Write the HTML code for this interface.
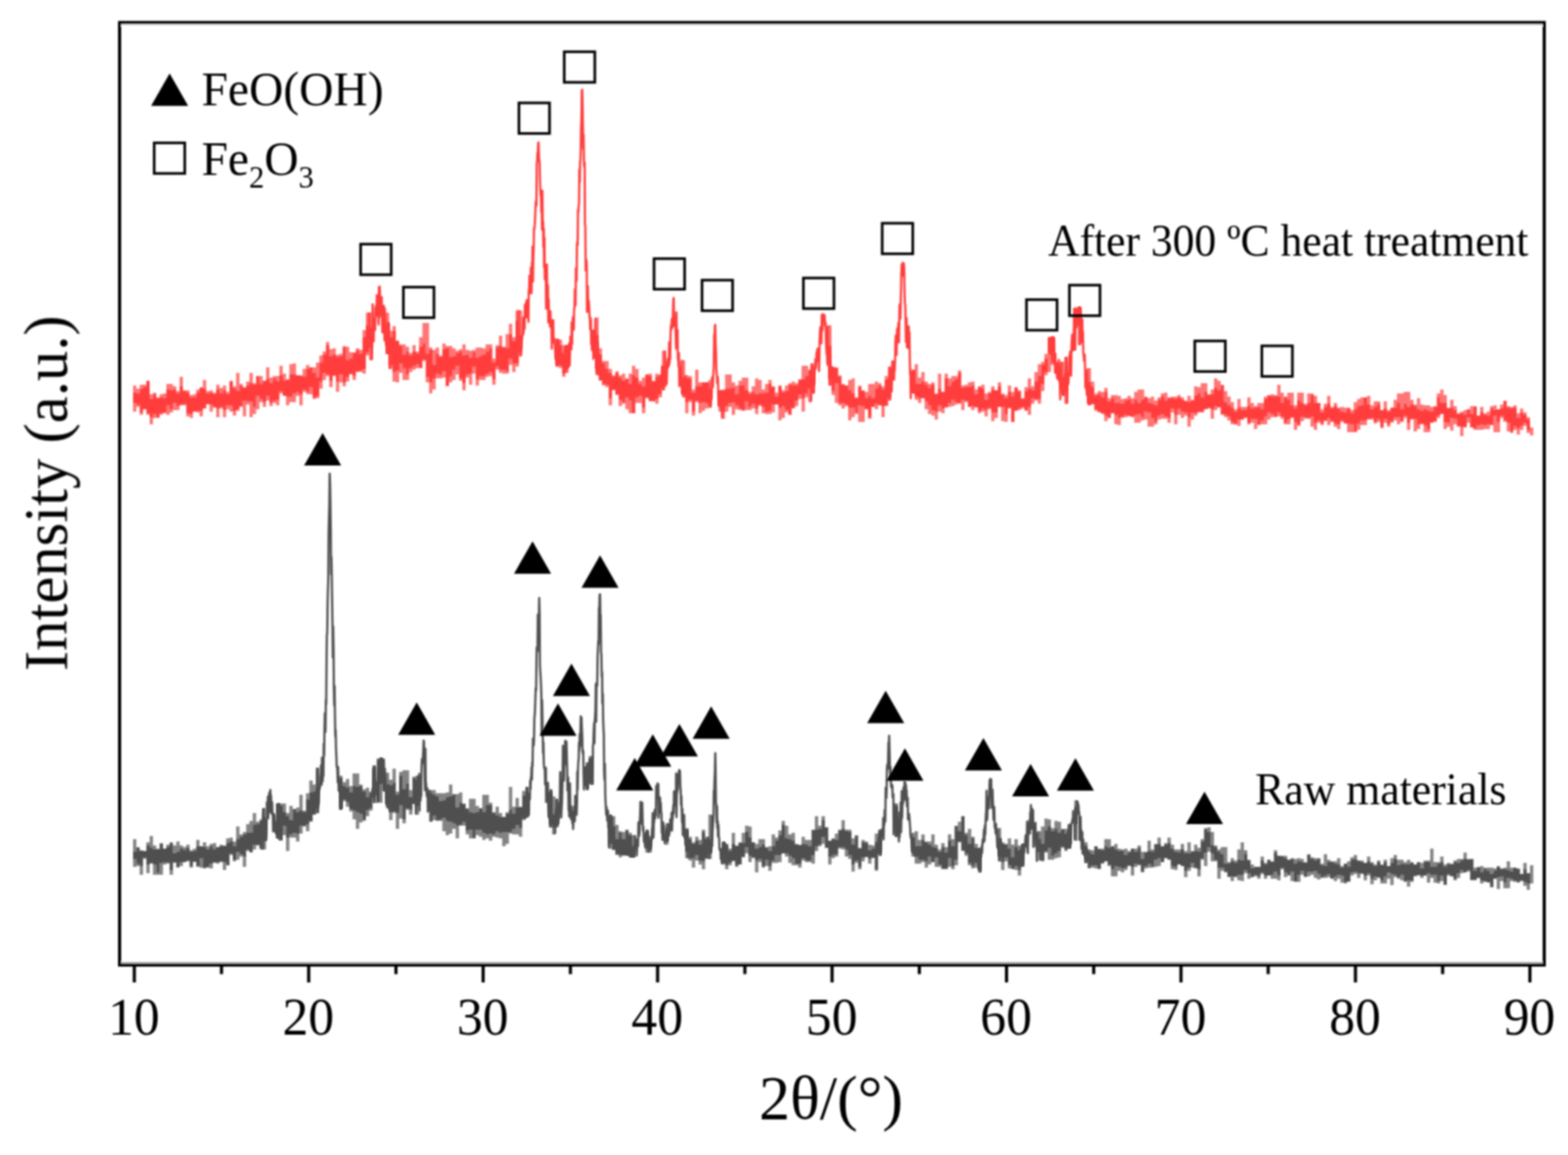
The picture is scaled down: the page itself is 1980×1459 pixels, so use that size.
<!DOCTYPE html>
<html lang="en"><head><meta charset="utf-8"><title>XRD patterns</title>
<style>
html,body{margin:0;padding:0;background:#fff;}
body{width:1980px;height:1459px;overflow:hidden;}
svg{display:block;position:absolute;left:0;top:0;}
text{font-family:"Liberation Serif","Times New Roman",Times,serif;fill:#000;}
.sq{fill:none;stroke:#000;stroke-width:3.3;}
.tr{fill:#000;stroke:none;}
</style></head><body>
<svg width="1980" height="1459" viewBox="0 0 1980 1459" role="img" aria-label="XRD patterns of raw materials and after 300 ºC heat treatment">
<defs><filter id="soft" x="-2%" y="-10%" width="104%" height="120%"><feGaussianBlur stdDeviation="1.1"/></filter><filter id="soft2" x="-20%" y="-5%" width="140%" height="110%"><feGaussianBlur stdDeviation="0.9"/></filter><filter id="soft3" filterUnits="userSpaceOnUse" x="0" y="0" width="1980" height="1459"><feGaussianBlur stdDeviation="0.85"/></filter></defs>
<rect x="0" y="0" width="1980" height="1459" fill="#fff"/>
<g filter="url(#soft)" fill="none" stroke="#505050" stroke-width="4.2">
<path stroke-opacity="0.7" d="M170.1 1060v16M170.1 1085v10M174.3 1070v1M174.3 1091v3M178.5 1074v1M178.5 1094v11M182.7 1083v2M186.9 1064v4M186.9 1092v11M191.1 1056v15M191.1 1090v1M195.3 1068v5M195.3 1092v13M199.5 1072v1M199.5 1102v3M203.7 1065v1M203.7 1090v15M207.9 1089v3M212.1 1067v3M212.1 1089v2M216.3 1064v1M216.3 1099v6M220.5 1068v10M220.5 1089v1M224.7 1063v13M224.7 1095v1M228.9 1068v4M228.9 1089v5M233.1 1070v4M237.3 1067v4M237.3 1087v1M241.5 1074v2M241.5 1094v2M245.7 1072v3M245.7 1088v1M249.9 1061v8M249.9 1094v1M254.1 1084v12M258.3 1064v6M258.3 1096v1M262.5 1069v4M262.5 1095v1M266.7 1066v3M266.7 1091v6M270.9 1065v8M270.9 1089v1M275.1 1089v2M279.3 1067v2M279.3 1088v1M283.5 1068v1M283.5 1089v10M287.7 1059v6M291.9 1058v5M291.9 1078v2M296.1 1063v6M296.1 1086v2M300.3 1044v16M300.3 1076v10M304.5 1054v3M304.5 1079v3M308.7 1051v3M308.7 1082v13M312.9 1041v11M312.9 1073v2M317.1 1037v15M317.1 1076v1M321.3 1027v15M321.3 1067v6M325.5 1038v3M325.5 1067v1M329.7 1035v2M329.7 1071v2M333.9 1021v11M333.9 1062v11M350.7 1054v5M354.9 1015v3M354.9 1061v1M359.1 1015v11M359.1 1043v12M363.3 1027v4M363.3 1058v17M367.5 1018v18M367.5 1054v4M371.7 1052v6M375.9 1020v6M375.9 1053v10M380.1 1004v20M380.1 1043v10M384.3 1024v2M384.3 1043v1M388.5 1002v8M388.5 1041v9M392.7 986v15M392.7 1037v1M396.9 991v9M401.1 970v26M401.1 1021v6M430.5 980v3M430.5 1022v1M434.7 988v5M434.7 1010v2M438.9 984v11M438.9 1013v6M443.1 993v8M443.1 1022v3M447.3 977v16M447.3 1024v11M451.5 977v17M451.5 1026v21M455.7 991v2M455.7 1028v11M459.9 997v3M459.9 1035v2M464.1 995v12M464.1 1023v8M468.3 1000v2M468.3 1021v3M472.5 967v3M472.5 1007v7M480.9 957v1M480.9 990v24M489.3 976v15M489.3 1018v3M493.5 985v7M493.5 1026v10M497.7 971v18M497.7 1025v2M501.9 1000v4M501.9 1027v20M506.1 975v5M506.1 1017v17M510.3 973v24M510.3 1035v5M514.5 973v17M514.5 1021v2M518.7 998v9M518.7 1023v6M522.9 981v2M522.9 1015v1M527.1 980v6M527.1 1018v11M543.9 998v4M543.9 1025v13M548.1 998v6M548.1 1030v6M552.3 1002v4M552.3 1036v1M556.5 1002v10M556.5 1035v2M560.7 1002v9M560.7 1033v17M564.9 1001v6M564.9 1037v18M569.1 991v15M569.1 1038v15M573.3 1003v1M573.3 1040v7M577.5 1003v17M577.5 1043v16M581.7 1001v13M581.7 1042v1M585.9 1015v1M585.9 1038v5M590.1 1021v1M590.1 1049v5M594.3 1009v17M594.3 1048v11M598.5 1009v18M602.7 1018v8M602.7 1048v7M606.9 1048v9M611.1 1004v22M611.1 1052v9M615.3 1004v13M615.3 1054v5M619.5 1014v3M619.5 1053v9M623.7 1026v1M623.7 1054v3M627.9 1019v11M627.9 1050v8M632.1 1027v5M632.1 1052v7M636.3 1051v18M640.5 1026v2M640.5 1051v15M644.7 994v29M644.7 1051v2M648.9 1019v9M648.9 1047v7M653.1 1008v12M653.1 1042v12M657.3 1019v1M657.3 1046v11M661.5 999v6M661.5 1034v2M665.7 994v7M665.7 1031v2M695.1 997v4M695.1 1041v4M699.3 1006v23M699.3 1046v8M703.5 1009v11M703.5 1042v3M741.3 963v4M741.3 995v3M745.5 955v3M745.5 989v2M770.7 1029v2M770.7 1066v6M774.9 1031v13M774.9 1073v1M779.1 1042v18M779.1 1079v1M783.3 1050v2M783.3 1080v3M787.5 1051v9M787.5 1080v1M791.7 1048v1M795.9 1052v3M800.1 1055v14M816.9 1048v3M816.9 1072v5M821.1 1056v4M821.1 1074v3M842.1 1040v6M842.1 1063v4M867.3 1046v2M867.3 1076v8M871.5 1057v3M871.5 1084v3M875.7 1064v2M875.7 1084v12M879.9 1057v5M879.9 1080v7M884.1 1061v6M884.1 1087v5M888.3 1048v3M888.3 1088v10M892.5 1057v3M892.5 1084v1M896.7 1029v32M896.7 1078v7M913.5 1063v1M913.5 1090v2M917.7 1066v2M917.7 1093v5M921.9 1072v3M921.9 1090v3M926.1 1052v14M926.1 1087v1M930.3 1068v1M930.3 1093v2M934.5 1064v1M938.7 1052v13M938.7 1082v1M942.9 1043v8M942.9 1070v8M947.1 1044v14M947.1 1081v8M951.3 1083v1M955.5 1066v6M955.5 1087v15M959.7 1060v10M959.7 1085v4M963.9 1060v7M963.9 1094v2M968.1 1070v1M968.1 1086v8M972.3 1069v6M972.3 1094v6M976.5 1054v15M976.5 1087v3M980.7 1058v4M980.7 1080v10M984.9 1049v6M984.9 1080v9M989.1 1037v5M993.3 1043v16M993.3 1078v4M997.5 1054v6M997.5 1081v9M1001.7 1052v10M1001.7 1084v9M1005.9 1066v1M1005.9 1091v2M1010.1 1067v1M1010.1 1091v5M1014.3 1057v9M1014.3 1084v3M1018.5 1061v6M1018.5 1087v2M1022.7 1061v8M1022.7 1087v2M1026.9 1048v1M1026.9 1080v11M1031.1 1031v17M1031.1 1069v6M1035.3 1043v4M1035.3 1067v2M1039.5 1031v5M1039.5 1057v9M1047.9 1082v10M1052.1 1059v1M1052.1 1080v4M1056.3 1053v8M1056.3 1079v3M1060.5 1048v1M1060.5 1070v2M1064.7 1036v11M1064.7 1070v3M1068.9 1048v2M1068.9 1073v9M1073.1 1048v3M1073.1 1080v5M1077.3 1059v8M1077.3 1092v9M1081.5 1055v1M1081.5 1087v3M1085.7 1071v1M1085.7 1095v3M1089.9 1061v3M1089.9 1083v5M1094.1 1063v2M1094.1 1082v1M1098.3 1067v7M1098.3 1085v6M1102.5 1068v4M1102.5 1083v1M1106.7 1053v11M1106.7 1098v2M1110.9 1048v4M1110.9 1078v3M1131.9 1015v3M1131.9 1047v10M1152.9 1052v6M1152.9 1077v5M1157.1 1050v19M1157.1 1082v9M1161.3 1061v8M1161.3 1086v5M1165.5 1054v7M1165.5 1086v3M1169.7 1063v1M1169.7 1088v8M1173.9 1063v4M1173.9 1082v10M1178.1 1054v16M1182.3 1067v4M1182.3 1083v12M1186.5 1073v3M1186.5 1092v3M1190.7 1065v5M1190.7 1097v1M1194.9 1070v7M1194.9 1097v1M1199.1 1054v8M1199.1 1084v11M1203.3 1060v9M1203.3 1094v4M1207.5 1043v1M1207.5 1086v7M1211.7 1038v12M1211.7 1063v1M1215.9 1074v1M1220.1 1052v3M1220.1 1078v3M1224.3 1047v19M1224.3 1090v3M1228.5 1057v2M1228.5 1094v3M1232.7 1066v5M1232.7 1090v6M1236.9 1071v1M1236.9 1099v3M1262.1 1046v13M1262.1 1082v6M1266.3 1064v2M1266.3 1089v10M1270.5 1066v1M1270.5 1083v5M1274.7 1059v13M1274.7 1093v4M1278.9 1067v16M1278.9 1097v1M1283.1 1060v10M1283.1 1094v5M1287.3 1068v6M1287.3 1099v7M1291.5 1094v1M1312.5 1050v10M1312.5 1076v11M1316.7 1044v22M1316.7 1087v1M1320.9 1034v15M1320.9 1075v2M1325.1 1035v9M1325.1 1071v15M1329.3 1046v4M1329.3 1081v5M1333.5 1037v10M1333.5 1078v6M1337.7 1038v14M1337.7 1075v8M1341.9 1047v1M1341.9 1069v2M1346.1 1047v6M1346.1 1073v2M1350.3 1041v6M1350.3 1071v1M1358.7 1011v8M1358.7 1041v21M1371.3 1064v5M1371.3 1085v5M1375.5 1073v3M1375.5 1096v1M1379.7 1074v5M1379.7 1093v3M1383.9 1093v4M1388.1 1072v1M1388.1 1097v1M1392.3 1072v2M1392.3 1090v1M1396.5 1060v9M1400.7 1060v11M1400.7 1092v2M1404.9 1098v9M1409.1 1066v7M1409.1 1094v13M1413.3 1072v3M1413.3 1095v5M1417.5 1073v2M1417.5 1097v5M1421.7 1072v8M1421.7 1096v3M1425.9 1075v2M1425.9 1093v1M1430.1 1095v11M1434.3 1072v4M1434.3 1091v4M1438.5 1068v3M1438.5 1092v1M1442.7 1076v9M1442.7 1101v1M1446.9 1076v1M1446.9 1094v3M1451.1 1062v13M1451.1 1091v5M1455.3 1073v3M1455.3 1094v2M1459.5 1066v1M1459.5 1086v9M1463.7 1058v8M1463.7 1084v10M1472.1 1065v2M1476.3 1058v7M1480.5 1067v5M1480.5 1094v4M1484.7 1073v3M1484.7 1095v4M1488.9 1073v4M1493.1 1066v7M1497.3 1075v3M1497.3 1100v8M1501.5 1064v14M1501.5 1096v4M1505.7 1075v1M1505.7 1090v6M1509.9 1067v8M1509.9 1096v1M1514.1 1071v5M1514.1 1098v9M1518.3 1060v3M1518.3 1084v2M1522.5 1046v2M1522.5 1077v17M1526.7 1045v6M1526.7 1070v6M1530.9 1051v17M1530.9 1078v10M1535.1 1068v2M1535.1 1086v2M1539.3 1073v3M1539.3 1096v14M1543.5 1070v9M1543.5 1096v4M1547.7 1070v21M1547.7 1101v1M1551.9 1089v2M1551.9 1107v1M1556.1 1084v4M1556.1 1107v6M1560.3 1087v3M1560.3 1107v1M1564.5 1073v13M1564.5 1105v7M1568.7 1064v23M1568.7 1105v8M1572.9 1074v5M1572.9 1099v4M1577.1 1086v1M1577.1 1103v7M1581.3 1092v5M1585.5 1105v2M1589.7 1107v3M1593.9 1082v5M1593.9 1102v2M1598.1 1090v2M1598.1 1106v4M1606.5 1088v1M1606.5 1105v5M1610.7 1074v3M1610.7 1101v9M1614.9 1106v6M1619.1 1081v1M1619.1 1096v2M1623.3 1081v3M1623.3 1102v6M1627.5 1105v1M1631.7 1084v1M1631.7 1101v12M1635.9 1085v6M1635.9 1113v1M1640.1 1084v4M1640.1 1105v9M1644.3 1085v4M1644.3 1100v5M1648.5 1089v1M1648.5 1107v1M1652.7 1079v1M1652.7 1101v6M1656.9 1083v2M1656.9 1101v4M1661.1 1084v3M1661.1 1100v9M1665.3 1084v1M1665.3 1104v7M1669.5 1091v2M1669.5 1108v1M1673.7 1079v15M1673.7 1106v3M1677.9 1086v3M1677.9 1104v4M1682.1 1088v1M1686.3 1088v3M1686.3 1107v6M1690.5 1084v8M1690.5 1105v5M1694.7 1094v2M1694.7 1106v9M1698.9 1114v2M1703.1 1088v7M1703.1 1113v1M1707.3 1083v3M1707.3 1102v4M1711.5 1080v5M1711.5 1101v3M1715.7 1103v6M1719.9 1087v2M1719.9 1103v1M1724.1 1106v6M1728.3 1082v6M1728.3 1103v3M1732.5 1089v2M1732.5 1110v7M1736.7 1092v2M1736.7 1107v5M1740.9 1087v2M1740.9 1108v1M1745.1 1092v1M1745.1 1112v4M1749.3 1086v3M1749.3 1107v9M1753.5 1102v8M1757.7 1084v6M1757.7 1104v14M1761.9 1080v5M1761.9 1105v3M1766.1 1086v7M1766.1 1108v2M1770.3 1086v5M1770.3 1105v7M1774.5 1089v3M1774.5 1113v1M1778.7 1086v6M1778.7 1112v8M1782.9 1089v1M1782.9 1112v2M1787.1 1106v1M1791.3 1105v1M1795.5 1090v7M1795.5 1106v3M1799.7 1087v2M1803.9 1087v2M1803.9 1103v12M1808.1 1072v23M1808.1 1105v4M1812.3 1089v6M1812.3 1105v10M1816.5 1089v2M1816.5 1113v3M1820.7 1082v7M1820.7 1106v7M1824.9 1092v3M1824.9 1117v1M1829.1 1090v2M1829.1 1104v2M1833.3 1091v1M1837.5 1087v2M1837.5 1110v2M1841.7 1085v5M1841.7 1103v6M1845.9 1085v2M1845.9 1099v4M1850.1 1077v8M1854.3 1085v1M1854.3 1099v2M1858.5 1111v1M1862.7 1096v4M1862.7 1111v1M1866.9 1095v1M1871.1 1094v8M1871.1 1112v4M1875.3 1096v2M1875.3 1113v1M1879.5 1096v4M1879.5 1114v1M1883.7 1096v8M1883.7 1120v1M1887.9 1097v3M1892.1 1094v1M1892.1 1108v15M1896.3 1097v1M1896.3 1107v6M1900.5 1096v2M1900.5 1115v7M1904.7 1088v11M1904.7 1109v13M1908.9 1096v5M1908.9 1110v3M1913.1 1112v2M1917.3 1097v1M1917.3 1114v1M1921.5 1112v1M1925.7 1090v8M1925.7 1114v5M1929.9 1116v8M1934.1 1093v23"/>
<path d="M170.1 1076v9M174.3 1071v20M178.5 1075v19M182.7 1075v8M186.9 1068v24M191.1 1071v19M195.3 1073v19M199.5 1073v29M203.7 1066v24M207.9 1072v17M212.1 1070v19M216.3 1065v34M220.5 1078v11M224.7 1076v19M228.9 1072v17M233.1 1074v15M237.3 1071v16M241.5 1076v18M245.7 1075v13M249.9 1069v25M254.1 1069v15M258.3 1070v26M262.5 1073v22M266.7 1069v22M270.9 1073v16M275.1 1070v19M279.3 1069v19M283.5 1069v20M287.7 1065v28M291.9 1063v15M296.1 1069v17M300.3 1060v16M304.5 1057v22M308.7 1054v28M312.9 1052v21M317.1 1052v24M321.3 1042v25M325.5 1041v26M329.7 1037v34M333.9 1032v30M350.7 1015v39M354.9 1018v43M359.1 1026v17M363.3 1031v27M367.5 1036v18M371.7 1022v30M375.9 1026v27M380.1 1024v19M384.3 1026v17M388.5 1010v31M392.7 1001v36M396.9 1000v29M401.1 996v25M430.5 983v39M434.7 993v17M438.9 995v18M443.1 1001v21M447.3 993v31M451.5 994v32M455.7 993v35M459.9 1000v35M464.1 1007v16M468.3 1002v19M472.5 970v37M480.9 958v32M489.3 991v27M493.5 992v34M497.7 989v36M501.9 1004v23M506.1 980v37M510.3 997v38M514.5 990v31M518.7 1007v16M522.9 983v32M527.1 986v32M543.9 1002v23M548.1 1004v26M552.3 1006v30M556.5 1012v23M560.7 1011v22M564.9 1007v30M569.1 1006v32M573.3 1004v36M577.5 1020v23M581.7 1014v28M585.9 1016v22M590.1 1022v27M594.3 1026v22M598.5 1027v32M602.7 1026v22M606.9 1021v27M611.1 1026v26M615.3 1017v37M619.5 1017v36M623.7 1027v27M627.9 1030v20M632.1 1032v20M636.3 1032v19M640.5 1028v23M644.7 1023v28M648.9 1028v19M653.1 1020v22M657.3 1020v26M661.5 1005v29M665.7 1001v30M695.1 1001v40M699.3 1029v17M703.5 1020v22M741.3 967v28M745.5 958v31M770.7 1031v35M774.9 1044v29M779.1 1060v19M783.3 1052v28M787.5 1060v20M791.7 1049v32M795.9 1055v28M800.1 1069v14M816.9 1051v21M821.1 1060v14M842.1 1046v17M867.3 1048v28M871.5 1060v24M875.7 1066v18M879.9 1062v18M884.1 1067v20M888.3 1051v37M892.5 1060v24M896.7 1061v17M913.5 1064v26M917.7 1068v25M921.9 1075v15M926.1 1066v21M930.3 1069v24M934.5 1065v27M938.7 1065v17M942.9 1051v19M947.1 1058v23M951.3 1064v19M955.5 1072v15M959.7 1070v15M963.9 1067v27M968.1 1071v15M972.3 1075v19M976.5 1069v18M980.7 1062v18M984.9 1055v25M989.1 1042v36M993.3 1059v19M997.5 1060v21M1001.7 1062v22M1005.9 1067v24M1010.1 1068v23M1014.3 1066v18M1018.5 1067v20M1022.7 1069v18M1026.9 1049v31M1031.1 1048v21M1035.3 1047v20M1039.5 1036v21M1043.7 1045v26M1047.9 1062v20M1052.1 1060v20M1056.3 1061v18M1060.5 1049v21M1064.7 1047v23M1068.9 1050v23M1073.1 1051v29M1077.3 1067v25M1081.5 1056v31M1085.7 1072v23M1089.9 1064v19M1094.1 1065v17M1098.3 1074v11M1102.5 1072v11M1106.7 1064v34M1110.9 1052v26M1131.9 1018v29M1152.9 1058v19M1157.1 1069v13M1161.3 1069v17M1165.5 1061v25M1169.7 1064v24M1173.9 1067v15M1178.1 1070v19M1182.3 1071v12M1186.5 1076v16M1190.7 1070v27M1194.9 1077v20M1199.1 1062v22M1203.3 1069v25M1207.5 1044v42M1211.7 1050v13M1215.9 1031v43M1220.1 1055v23M1224.3 1066v24M1228.5 1059v35M1232.7 1071v19M1236.9 1072v27M1262.1 1059v23M1266.3 1066v23M1270.5 1067v16M1274.7 1072v21M1278.9 1083v14M1283.1 1070v24M1287.3 1074v25M1291.5 1066v28M1312.5 1060v16M1316.7 1066v21M1320.9 1049v26M1325.1 1044v27M1329.3 1050v31M1333.5 1047v31M1337.7 1052v23M1341.9 1048v21M1346.1 1053v20M1350.3 1047v24M1358.7 1019v22M1371.3 1069v16M1375.5 1076v20M1379.7 1079v14M1383.9 1069v24M1388.1 1073v24M1392.3 1074v16M1396.5 1069v19M1400.7 1071v21M1404.9 1069v29M1409.1 1073v21M1413.3 1075v20M1417.5 1075v22M1421.7 1080v16M1425.9 1077v16M1430.1 1072v23M1434.3 1076v15M1438.5 1071v21M1442.7 1085v16M1446.9 1077v17M1451.1 1075v16M1455.3 1076v18M1459.5 1067v19M1463.7 1066v18M1467.9 1069v20M1472.1 1067v17M1476.3 1065v21M1480.5 1072v22M1484.7 1076v19M1488.9 1077v15M1493.1 1073v21M1497.3 1078v22M1501.5 1078v18M1505.7 1076v14M1509.9 1075v21M1514.1 1076v22M1518.3 1063v21M1522.5 1048v29M1526.7 1051v19M1530.9 1068v10M1535.1 1070v16M1539.3 1076v20M1543.5 1079v17M1547.7 1091v10M1551.9 1091v16M1556.1 1088v19M1560.3 1090v17M1564.5 1086v19M1568.7 1087v18M1572.9 1079v20M1577.1 1087v16M1581.3 1097v11M1585.5 1095v10M1589.7 1095v12M1593.9 1087v15M1598.1 1092v14M1602.3 1086v20M1606.5 1089v16M1610.7 1077v24M1614.9 1081v25M1619.1 1082v14M1623.3 1084v18M1627.5 1086v19M1631.7 1085v16M1635.9 1091v22M1640.1 1088v17M1644.3 1089v11M1648.5 1090v17M1652.7 1080v21M1656.9 1085v16M1661.1 1087v13M1665.3 1085v19M1669.5 1093v15M1673.7 1094v12M1677.9 1089v15M1682.1 1089v21M1686.3 1091v16M1690.5 1092v13M1694.7 1096v10M1698.9 1091v23M1703.1 1095v18M1707.3 1086v16M1711.5 1085v16M1715.7 1087v16M1719.9 1089v14M1724.1 1090v16M1728.3 1088v15M1732.5 1091v19M1736.7 1094v13M1740.9 1089v19M1745.1 1093v19M1749.3 1089v18M1753.5 1094v8M1757.7 1090v14M1761.9 1085v20M1766.1 1093v15M1770.3 1091v14M1774.5 1092v21M1778.7 1092v20M1782.9 1090v22M1787.1 1092v14M1791.3 1089v16M1795.5 1097v9M1799.7 1089v17M1803.9 1089v14M1808.1 1095v10M1812.3 1095v10M1816.5 1091v22M1820.7 1089v17M1824.9 1095v22M1829.1 1092v12M1833.3 1092v15M1837.5 1089v21M1841.7 1090v13M1845.9 1087v12M1850.1 1085v17M1854.3 1086v13M1858.5 1085v26M1862.7 1100v11M1866.9 1096v13M1871.1 1102v10M1875.3 1098v15M1879.5 1100v14M1883.7 1104v16M1887.9 1100v10M1892.1 1095v13M1896.3 1098v9M1900.5 1098v17M1904.7 1099v10M1908.9 1101v9M1913.1 1096v16M1917.3 1098v16M1921.5 1104v8M1925.7 1098v16M1929.9 1103v13"/>
</g>
<g filter="url(#soft2)" fill="none" stroke="#505050" stroke-width="2.8" stroke-linejoin="round" stroke-linecap="round">
<polyline points="331.2,1043.9 331.7,1071.9 332.1,1033.0 332.5,1022.2 333.0,1050.4 333.4,1048.1 333.9,1051.5 334.3,1060.8 334.8,1036.2 335.2,1042.7 335.6,1043.5 336.1,1061.1 336.5,1054.8 337.0,1013.6 337.4,1014.2 337.8,1020.5 338.3,1006.5 338.7,1033.7 339.2,1014.3 339.6,1011.2 340.0,1001.5 340.5,1025.8 340.9,1008.0 341.4,997.8 341.8,1009.7 342.2,1005.0 342.7,1016.4 343.1,1028.0 343.6,1013.6 344.0,1025.7 344.5,1028.2 344.9,1050.3 345.3,1035.3 345.8,1032.3 346.2,1028.4 346.7,1040.9 347.1,1030.5 347.5,1050.3 348.0,1047.4 348.4,1052.3 348.9,1042.0 349.3,1039.3 349.7,1038.3 350.2,1057.6 350.6,1044.9 351.1,1044.8 351.5,1016.0 351.9,1046.5 352.4,1016.0 352.8,1060.0 353.3,1044.7"/>
<polyline points="398.3,1007.7 398.7,1019.1 399.1,1004.4 399.6,1015.6 400.0,1015.7 400.5,1025.8 400.9,971.2 401.3,1003.3 401.8,1015.2 402.2,1014.6 402.7,998.0 403.1,997.6 403.5,995.7 404.0,994.5 404.4,982.0 404.9,976.9 405.3,966.8 405.8,972.3 406.2,991.3 406.6,957.1 407.1,978.0 407.5,986.8 408.0,960.3 408.4,980.5 408.8,939.7 409.3,954.9 409.7,924.3 410.2,900.9 410.6,912.8 411.0,924.5 411.5,884.1 411.9,889.6 412.4,830.7 412.8,802.4 413.2,799.5 413.7,761.0 414.1,745.2 414.6,728.9 415.0,671.5 415.5,652.4 415.9,636.3 416.3,598.3 416.8,611.3 417.2,633.2 417.7,669.0 418.1,725.5 418.5,703.7 419.0,731.2 419.4,760.9 419.9,791.0 420.3,830.4 420.7,791.4 421.2,822.2 421.6,866.7 422.1,891.1 422.5,866.3 422.9,898.4 423.4,930.0 423.8,921.8 424.3,946.0 424.7,953.1 425.2,968.0 425.6,969.4 426.0,971.3 426.5,988.2 426.9,968.9 427.4,984.8 427.8,998.9 428.2,981.6 428.7,988.2 429.1,986.7 429.6,984.8 430.0,1021.2 430.4,1002.7 430.9,1020.1 431.3,1006.5 431.8,998.9 432.2,994.9 432.7,1001.8 433.1,998.5"/>
<polyline points="469.7,1006.0 470.1,1001.0 470.6,996.6 471.0,997.4 471.5,1005.5 471.9,971.3 472.3,1013.0 472.8,968.4 473.2,991.6 473.7,987.3 474.1,1003.1 474.5,994.8 475.0,989.2 475.4,988.7 475.9,997.4 476.3,1013.1 476.7,986.0 477.2,959.3 477.6,971.4 478.1,980.2 478.5,1012.2 479.0,961.7 479.4,965.3 479.8,975.8 480.3,971.2 480.7,959.3 481.2,988.5 481.6,958.3 482.0,960.9 482.5,984.7 482.9,959.3 483.4,969.1 483.8,998.4 484.2,973.0 484.7,959.3 485.1,978.3 485.6,998.5 486.0,970.8 486.5,984.8 486.9,977.1 487.3,983.2 487.8,1015.0 488.2,999.9 488.7,999.0 489.1,1011.0 489.5,997.9 490.0,992.3 490.4,1019.9 490.9,1017.0 491.3,997.0 491.7,1015.3 492.2,1024.2"/>
<polyline points="524.4,987.0 524.8,989.9 525.3,1027.7 525.7,1015.9 526.1,993.0 526.6,1008.4 527.0,1016.1 527.5,981.6 527.9,987.6 528.3,1001.6 528.8,993.7 529.2,977.7 529.7,1023.9 530.1,997.7 530.5,993.6 531.0,1011.2 531.4,981.7 531.9,1005.7 532.3,970.0 532.8,959.2 533.2,958.5 533.6,963.7 534.1,956.2 534.5,947.8 535.0,935.3 535.4,937.7 535.8,957.6 536.3,979.9 536.7,998.2 537.2,945.8 537.6,988.7 538.0,989.1 538.5,997.6 538.9,1005.7 539.4,997.2 539.8,996.1 540.3,1025.3 540.7,1022.6 541.1,1009.5 541.6,1013.3 542.0,1007.1 542.5,999.3 542.9,1023.3 543.3,1008.6 543.8,1003.8 544.2,1010.2 544.7,1036.1 545.1,1022.8 545.5,1020.9 546.0,1020.4 546.4,1028.7 546.9,1027.6"/>
<polyline points="662.8,1032.8 663.3,1027.8 663.7,1021.5 664.2,1013.8 664.6,1031.4 665.0,1019.3 665.5,995.7 665.9,1014.2 666.4,1019.9 666.8,1002.6 667.3,1017.5 667.7,1029.5 668.1,1005.2 668.6,1010.2 669.0,1009.7 669.5,986.3 669.9,996.9 670.3,982.6 670.8,983.6 671.2,969.3 671.7,984.7 672.1,963.0 672.5,968.1 673.0,932.9 673.4,940.4 673.9,941.8 674.3,934.1 674.8,906.9 675.2,903.6 675.6,896.4 676.1,880.5 676.5,869.5 677.0,871.9 677.4,837.8 677.8,817.8 678.3,823.4 678.7,821.8 679.2,776.3 679.6,812.2 680.0,783.9 680.5,778.5 680.9,755.3 681.4,776.1 681.8,840.1 682.2,848.3 682.7,855.7 683.1,864.1 683.6,878.3 684.0,925.6 684.5,884.3 684.9,903.5 685.3,926.0 685.8,951.7 686.2,937.7 686.7,964.2 687.1,969.2 687.5,970.9 688.0,971.9 688.4,990.8 688.9,990.9 689.3,970.0 689.7,1013.1 690.2,1003.6 690.6,1006.6 691.1,1003.5 691.5,1009.1 691.9,989.0 692.4,1019.5 692.8,1031.3 693.3,1032.4 693.7,1019.4 694.2,1002.3 694.6,1016.5 695.0,1026.1 695.5,1043.8 695.9,998.9 696.4,1032.3 696.8,1039.2 697.2,1040.5 697.7,1034.0"/>
<polyline points="700.8,1052.2 701.2,1034.3 701.7,1033.5 702.1,1024.3 702.5,1043.4 703.0,1010.9 703.4,1021.1 703.9,1029.7 704.3,1022.9 704.7,1040.2 705.2,1024.7 705.6,1034.4 706.1,1014.0 706.5,1013.4 706.9,1016.4 707.4,975.3 707.8,1026.2 708.3,997.5 708.7,1032.6 709.1,1021.9 709.6,1014.3 710.0,1000.0 710.5,981.3 710.9,942.1 711.4,983.7 711.8,966.7 712.2,986.0 712.7,953.1 713.1,966.6 713.6,936.8 714.0,935.8 714.4,936.8 714.9,950.2 715.3,936.8 715.8,957.9 716.2,972.8 716.6,998.7 717.1,993.1 717.5,982.1 718.0,1023.5 718.4,1016.1 718.8,1031.5 719.3,1011.6 719.7,989.6 720.2,1018.5 720.6,1018.5 721.1,1034.9 721.5,1018.7 721.9,1028.2 722.4,1026.2 722.8,1040.0 723.3,1026.0 723.7,1047.1 724.1,1038.1 724.6,1035.9 725.0,1018.9 725.5,1026.0 725.9,1037.3 726.3,1005.3 726.8,1026.4 727.2,1007.1 727.7,1021.1 728.1,1029.3 728.6,1014.7 729.0,974.9 729.4,997.5 729.9,970.8 730.3,962.5 730.8,958.2 731.2,938.1 731.6,948.3 732.1,927.1 732.5,942.7 733.0,923.6 733.4,904.9 733.8,905.9 734.3,906.8 734.7,919.6 735.2,928.5 735.6,948.5 736.0,952.2 736.5,948.5 736.9,977.2 737.4,997.3 737.8,974.4 738.3,990.6 738.7,981.6 739.1,969.3 739.6,972.3 740.0,978.3 740.5,992.8 740.9,982.1 741.3,993.4 741.8,996.4 742.2,968.1 742.7,964.7 743.1,977.1 743.5,983.1 744.0,987.8 744.4,983.0 744.9,981.3 745.3,959.6 745.7,975.4 746.2,960.7 746.6,973.3 747.1,990.0 747.5,956.3 748.0,960.6 748.4,990.2 748.8,941.7 749.3,938.6 749.7,924.6 750.2,913.7 750.6,939.2 751.0,910.9 751.5,905.3 751.9,896.6 752.4,863.8 752.8,911.8 753.2,870.2 753.7,862.0 754.1,865.9 754.6,831.2 755.0,821.6 755.5,809.9 755.9,813.7 756.3,768.5 756.8,768.0 757.2,751.7 757.7,750.7 758.1,775.3 758.5,776.9 759.0,824.2 759.4,826.5 759.9,854.8 760.3,848.8 760.7,888.8 761.2,876.6 761.6,907.2 762.1,921.8 762.5,927.7 762.9,975.3 763.4,985.1 763.8,964.8 764.3,1004.7 764.7,1013.2 765.2,1022.2 765.6,1029.4 766.0,1019.6 766.5,1029.4 766.9,1036.7 767.4,1025.5 767.8,1024.3 768.2,1045.3 768.7,1039.0 769.1,1070.1 769.6,1064.4 770.0,1038.3 770.4,1050.7 770.9,1030.6 771.3,1044.7 771.8,1043.1 772.2,1045.0 772.6,1032.9 773.1,1056.0 773.5,1055.6"/>
<polyline points="797.3,1081.5 797.8,1074.4 798.2,1075.1 798.7,1081.3 799.1,1075.4 799.5,1078.4 800.0,1070.0 800.4,1081.4 800.9,1071.9 801.3,1072.3 801.8,1056.4 802.2,1064.2 802.6,1062.8 803.1,1060.2 803.5,1065.2 804.0,1080.7 804.4,1073.2 804.8,1065.8 805.3,1064.3 805.7,1068.7 806.2,1038.9 806.6,1048.6 807.0,1056.0 807.5,1052.4 807.9,1037.8 808.4,1028.8 808.8,1012.9 809.3,1013.9 809.7,1021.9 810.1,1031.3 810.6,1040.5 811.0,1013.9 811.5,1036.5 811.9,1049.3 812.3,1044.3 812.8,1054.3 813.2,1063.5 813.7,1062.1 814.1,1061.3 814.5,1066.6 815.0,1070.4 815.4,1058.3 815.9,1052.1 816.3,1055.6 816.7,1057.8 817.2,1062.0 817.6,1049.8 818.1,1056.6 818.5,1061.4 819.0,1075.6 819.4,1068.8 819.8,1063.5 820.3,1072.6 820.7,1066.4 821.2,1064.7 821.6,1069.8 822.0,1061.3 822.5,1057.5 822.9,1060.5 823.4,1046.6 823.8,1050.0 824.2,1027.2 824.7,1041.1 825.1,1058.1 825.6,1037.2 826.0,1038.6 826.4,1027.7 826.9,1023.0 827.3,1033.7 827.8,1023.2 828.2,1030.5 828.7,993.0 829.1,1008.6 829.5,995.0 830.0,990.9 830.4,989.7 830.9,990.7 831.3,990.7 831.7,1033.0 832.2,1006.2 832.6,1008.6 833.1,1020.1 833.5,1007.6 833.9,1026.6 834.4,1014.1 834.8,1025.6 835.3,1028.6 835.7,1052.0 836.2,1047.7 836.6,1060.9 837.0,1060.5 837.5,1038.8 837.9,1051.9 838.4,1044.0 838.8,1043.5 839.2,1062.0 839.7,1065.4 840.1,1054.6 840.6,1057.8 841.0,1058.7 841.4,1060.3 841.9,1061.8 842.3,1048.7 842.8,1061.5 843.2,1047.9 843.6,1041.3 844.1,1048.0 844.5,1051.3 845.0,1055.1 845.4,1048.9 845.9,1049.2 846.3,1035.1 846.7,1043.8 847.2,1040.2 847.6,1042.2 848.1,1026.7 848.5,1049.3 848.9,1036.7 849.4,1033.2 849.8,1024.1 850.3,1017.1 850.7,1027.8 851.1,999.7 851.6,1006.6 852.0,1002.4 852.5,1013.1 852.9,1000.1 853.4,1018.0 853.8,977.1 854.2,1032.2 854.7,996.8 855.1,1001.9 855.6,981.0 856.0,997.9 856.4,977.9 856.9,982.6 857.3,973.8 857.8,972.8 858.2,984.6 858.6,973.8 859.1,993.8 859.5,997.2 860.0,1016.6 860.4,1005.3 860.8,1021.1 861.3,1038.8 861.7,1021.8 862.2,1054.9 862.6,1040.9 863.1,1036.5 863.5,1030.5 863.9,1029.5 864.4,1058.3 864.8,1047.7 865.3,1049.0 865.7,1067.0 866.1,1066.1 866.6,1064.0 867.0,1053.1 867.5,1049.3 867.9,1074.0 868.3,1066.0 868.8,1064.4 869.2,1082.9 869.7,1063.7 870.1,1070.4"/>
<polyline points="893.9,1068.9 894.4,1058.4 894.8,1069.2 895.2,1083.5 895.7,1067.1 896.1,1070.4 896.6,1073.3 897.0,1064.3 897.4,1076.6 897.9,1074.4 898.3,1062.8 898.8,1030.9 899.2,1068.8 899.7,1050.3 900.1,1044.8 900.5,1037.6 901.0,1028.6 901.4,998.9 901.9,999.2 902.3,983.9 902.7,977.0 903.2,951.3 903.6,969.6 904.1,1016.6 904.5,1016.0 904.9,1039.1 905.4,1018.4 905.8,1045.8 906.3,1037.1 906.7,1056.4 907.2,1042.2 907.6,1058.0 908.0,1057.7 908.5,1071.7 908.9,1073.7 909.4,1074.1 909.8,1072.8 910.2,1085.0 910.7,1082.8 911.1,1072.5 911.6,1090.3 912.0,1073.6 912.4,1079.2 912.9,1077.8 913.3,1077.8 913.8,1084.6 914.2,1064.8 914.6,1088.2 915.1,1065.1 915.5,1088.0 916.0,1082.9 916.4,1067.3"/>
<polyline points="1108.2,1065.7 1108.7,1065.6 1109.1,1070.2 1109.6,1059.3 1110.0,1076.7 1110.4,1061.1 1110.9,1056.4 1111.3,1049.8 1111.8,1079.7 1112.2,1074.1 1112.6,1053.3 1113.1,1048.5 1113.5,1051.7 1114.0,1056.1 1114.4,1047.1 1114.9,1052.6 1115.3,1033.5 1115.7,1060.3 1116.2,1039.3 1116.6,1042.1 1117.1,1023.2 1117.5,1033.8 1117.9,1037.7 1118.4,995.1 1118.8,1005.4 1119.3,1008.0 1119.7,993.1 1120.1,969.0 1120.6,965.7 1121.0,971.1 1121.5,959.5 1121.9,938.2 1122.4,942.8 1122.8,929.3 1123.2,945.2 1123.7,966.8 1124.1,976.7 1124.6,969.1 1125.0,988.0 1125.4,993.6 1125.9,995.2 1126.3,992.9 1126.8,991.7 1127.2,1007.1 1127.6,1006.2 1128.1,1002.8 1128.5,1053.9 1129.0,1015.8 1129.4,1025.4 1129.8,1026.7 1130.3,1016.8 1130.7,1039.1 1131.2,1020.0 1131.6,1055.9 1132.1,1025.9 1132.5,1033.3 1132.9,1040.8 1133.4,1038.6 1133.8,1045.3 1134.3,1055.1 1134.7,1055.0 1135.1,1063.0 1135.6,1026.1 1136.0,1057.4 1136.5,1040.1 1136.9,1027.2 1137.3,1013.6 1137.8,1051.1 1138.2,1035.5 1138.7,999.3 1139.1,1033.1 1139.5,1017.8 1140.0,1011.7 1140.4,1014.8 1140.9,994.6 1141.3,996.7 1141.8,1006.7 1142.2,987.3 1142.6,988.3 1143.1,988.3 1143.5,1010.8 1144.0,991.6 1144.4,1002.5 1144.8,998.1 1145.3,1018.6 1145.7,1018.4 1146.2,1007.7 1146.6,1035.1 1147.0,1028.6 1147.5,1032.0 1147.9,1028.1 1148.4,1033.5 1148.8,1038.9 1149.3,1046.0 1149.7,1054.2 1150.1,1057.9 1150.6,1053.8 1151.0,1056.4 1151.5,1066.9 1151.9,1073.3 1152.3,1075.8 1152.8,1067.2 1153.2,1059.2 1153.7,1073.2 1154.1,1075.5 1154.5,1076.8 1155.0,1080.2 1155.4,1072.3 1155.9,1077.1"/>
<polyline points="1233.9,1081.5 1234.4,1082.8 1234.8,1077.0 1235.2,1078.9 1235.7,1085.1 1236.1,1097.4 1236.6,1072.9 1237.0,1076.7 1237.4,1079.0 1237.9,1100.9 1238.3,1073.1 1238.8,1081.9 1239.2,1075.0 1239.7,1068.6 1240.1,1077.3 1240.5,1066.4 1241.0,1060.3 1241.4,1062.6 1241.9,1064.3 1242.3,1051.2 1242.7,1047.6 1243.2,1062.2 1243.6,1042.8 1244.1,1054.2 1244.5,1040.3 1244.9,1030.1 1245.4,1023.7 1245.8,999.0 1246.3,1036.2 1246.7,1032.7 1247.1,1017.8 1247.6,1007.1 1248.0,1008.8 1248.5,1012.4 1248.9,1021.1 1249.4,994.2 1249.8,985.0 1250.2,996.0 1250.7,985.0 1251.1,984.0 1251.6,985.0 1252.0,1005.1 1252.4,1020.4 1252.9,997.2 1253.3,997.6 1253.8,1013.9 1254.2,1022.2 1254.6,1035.7 1255.1,1034.5 1255.5,1019.5 1256.0,1042.8 1256.4,1046.3 1256.9,1041.7 1257.3,1052.9 1257.7,1040.9 1258.2,1053.7 1258.6,1048.2 1259.1,1063.1 1259.5,1070.4 1259.9,1047.8 1260.4,1065.4 1260.8,1072.0 1261.3,1068.6 1261.7,1080.7 1262.1,1065.6 1262.6,1086.5 1263.0,1070.1 1263.5,1060.2 1263.9,1069.6 1264.3,1066.0 1264.8,1081.8"/>
<polyline points="1288.6,1083.3 1289.0,1093.0 1289.5,1072.1 1289.9,1092.7 1290.4,1081.5 1290.8,1082.9 1291.2,1089.7 1291.7,1067.5 1292.1,1067.0 1292.6,1077.6 1293.0,1076.8 1293.5,1070.3 1293.9,1069.9 1294.3,1067.2 1294.8,1059.7 1295.2,1055.1 1295.7,1058.4 1296.1,1064.3 1296.5,1069.4 1297.0,1037.9 1297.4,1074.2 1297.9,1077.6 1298.3,1056.3 1298.7,1040.8 1299.2,1042.9 1299.6,1048.7 1300.1,1035.9 1300.5,1052.8 1301.0,1026.1 1301.4,1035.6 1301.8,1017.0 1302.3,1046.7 1302.7,1029.4 1303.2,1033.1 1303.6,1022.0 1304.0,1031.4 1304.5,1023.6 1304.9,1069.9 1305.4,1043.7 1305.8,1044.3 1306.2,1049.6 1306.7,1056.0 1307.1,1059.4 1307.6,1039.5 1308.0,1068.8 1308.4,1060.1 1308.9,1059.7 1309.3,1087.6 1309.8,1065.5 1310.2,1057.9 1310.7,1051.7 1311.1,1074.2 1311.5,1070.4 1312.0,1071.8 1312.4,1061.7 1312.9,1075.0 1313.3,1069.9 1313.7,1069.6 1314.2,1085.1 1314.6,1076.4 1315.1,1070.9"/>
<polyline points="1347.7,1061.5 1348.1,1069.3 1348.6,1051.5 1349.0,1053.9 1349.5,1054.8 1349.9,1048.7 1350.3,1042.3 1350.8,1070.6 1351.2,1052.2 1351.7,1062.3 1352.1,1065.8 1352.5,1046.7 1353.0,1039.4 1353.4,1040.0 1353.9,1039.8 1354.3,1034.6 1354.8,1037.7 1355.2,1024.4 1355.6,1027.7 1356.1,1028.6 1356.5,1035.5 1357.0,1036.2 1357.4,1060.2 1357.8,1039.3 1358.3,1031.8 1358.7,1022.1 1359.2,1020.6 1359.6,1021.8 1360.0,1012.3 1360.5,1019.0 1360.9,1013.3 1361.4,1028.1 1361.8,1016.9 1362.2,1024.3 1362.7,1026.3 1363.1,1061.1 1363.6,1038.7 1364.0,1050.6 1364.5,1032.0 1364.9,1053.2 1365.3,1048.3 1365.8,1072.2 1366.2,1054.3 1366.7,1051.1 1367.1,1078.3 1367.5,1068.4 1368.0,1060.7 1368.4,1071.7 1368.9,1066.0 1369.3,1080.0 1369.7,1076.2 1370.2,1079.3 1370.6,1070.2 1371.1,1088.8 1371.5,1075.2 1371.9,1082.8 1372.4,1079.8 1372.8,1083.2 1373.3,1074.7 1373.7,1085.2 1374.2,1088.4"/>
</g>
<g filter="url(#soft)" fill="none" stroke="#ff3c3c" stroke-width="4.2">
<path stroke-opacity="0.7" d="M170.1 487v9M170.1 509v11M174.3 491v6M174.3 511v3M178.5 486v5M178.5 521v3M182.7 486v3M186.9 522v2M191.1 498v6M191.1 527v9M195.3 496v2M195.3 523v5M199.5 502v1M199.5 527v1M203.7 498v4M203.7 522v2M207.9 497v6M207.9 521v1M212.1 485v7M212.1 512v12M216.3 485v8M216.3 517v4M220.5 488v4M220.5 509v9M224.7 494v3M224.7 513v5M228.9 476v12M228.9 511v1M233.1 493v1M233.1 510v2M237.3 493v3M237.3 522v4M241.5 499v3M241.5 523v5M245.7 498v4M249.9 492v4M249.9 519v2M254.1 489v1M254.1 519v7M258.3 480v11M262.5 494v3M262.5 510v1M266.7 493v3M266.7 511v9M270.9 496v2M270.9 514v1M275.1 486v6M275.1 516v11M279.3 490v7M279.3 514v2M283.5 487v6M283.5 518v9M287.7 495v3M287.7 512v5M291.9 481v1M291.9 512v8M296.1 488v3M296.1 519v6M300.3 471v23M300.3 517v2M304.5 485v2M304.5 513v1M308.7 489v1M308.7 506v20M312.9 482v5M312.9 507v4M317.1 471v13M317.1 507v20M321.3 484v2M321.3 514v9M325.5 500v17M329.7 475v10M329.7 504v4M333.9 508v6M338.1 464v15M338.1 500v6M342.3 477v7M342.3 509v4M346.5 475v3M346.5 506v3M350.7 475v7M350.7 505v7M354.9 462v12M354.9 494v3M359.1 472v9M363.3 479v1M363.3 501v11M367.5 460v13M367.5 501v7M371.7 459v14M371.7 497v11M375.9 495v5M380.1 474v1M380.1 498v14M384.3 466v10M384.3 492v3M388.5 461v5M388.5 495v3M392.7 489v9M396.9 464v7M396.9 502v2M401.1 458v19M401.1 500v3M405.3 449v9M405.3 482v9M409.5 444v4M409.5 471v9M413.7 432v4M413.7 473v2M417.9 441v9M417.9 481v8M422.1 440v8M422.1 474v1M426.3 448v3M426.3 482v13M430.5 447v3M430.5 473v10M434.7 437v2M434.7 483v5M438.9 438v17M438.9 476v6M443.1 445v8M443.1 472v1M447.3 445v1M447.3 475v5M451.5 440v2M451.5 469v1M455.7 442v5M455.7 468v2M459.9 417v9M459.9 466v6M464.1 395v16M464.1 445v4M468.3 395v19M468.3 439v16M489.3 395v12M493.5 418v8M493.5 461v5M497.7 412v6M497.7 470v12M501.9 430v1M501.9 468v15M506.1 435v2M506.1 459v12M510.3 435v13M510.3 465v15M514.5 438v6M514.5 473v7M518.7 446v3M518.7 465v5M522.9 436v8M522.9 462v5M527.1 444v3M527.1 460v5M531.3 426v12M535.5 408v26M535.5 454v2M539.7 408v39M539.7 476v7M543.9 439v3M543.9 483v14M548.1 442v19M548.1 478v14M552.3 439v8M552.3 472v6M556.5 449v2M556.5 474v4M560.7 434v7M560.7 469v8M564.9 437v3M564.9 487v1M569.1 437v14M569.1 475v8M573.3 440v10M573.3 467v13M577.5 443v3M577.5 462v11M581.7 441v3M581.7 478v3M585.9 435v14M585.9 484v9M590.1 442v6M590.1 473v4M594.3 443v9M594.3 472v14M598.5 442v3M598.5 463v9M602.7 439v13M602.7 479v8M606.9 439v11M606.9 475v5M611.1 440v8M611.1 475v5M615.3 435v9M615.3 472v4M619.5 435v5M619.5 470v5M623.7 453v5M623.7 479v7M627.9 436v3M627.9 463v4M632.1 424v13M632.1 467v4M636.3 438v1M636.3 467v5M640.5 422v18M640.5 469v3M644.7 409v13M644.7 453v8M648.9 426v5M648.9 459v11M653.1 392v13M653.1 459v4M657.3 392v32M657.3 445v5M703.5 428v1M703.5 461v2M707.7 429v7M707.7 462v3M711.9 436v10M711.9 472v4M716.1 466v5M753.9 401v22M753.9 471v3M758.1 440v8M758.1 480v1M762.3 456v3M762.3 485v2M766.5 456v10M766.5 486v3M770.7 466v5M770.7 503v9M774.9 474v2M774.9 492v1M779.1 469v2M779.1 498v1M783.3 474v3M783.3 505v8M787.5 472v9M787.5 508v2M791.7 478v1M791.7 502v15M795.9 472v13M795.9 506v16M800.1 462v12M804.3 466v11M804.3 502v7M808.5 481v4M808.5 500v9M812.7 477v11M812.7 515v7M816.9 502v1M821.1 472v3M821.1 506v1M825.3 481v1M829.5 472v4M829.5 504v6M833.7 473v1M833.7 498v4M837.9 443v19M837.9 489v4M863.1 455v22M863.1 499v3M867.3 474v4M867.3 508v14M871.5 475v3M871.5 505v3M875.7 492v4M875.7 520v5M879.9 467v21M879.9 506v2M884.1 483v5M884.1 509v13M888.3 508v11M892.5 509v7M896.7 480v11M896.7 512v3M909.3 493v1M909.3 514v6M913.5 492v1M913.5 521v8M917.7 473v18M917.7 513v7M921.9 473v18M921.9 509v5M926.1 483v7M926.1 508v16M930.3 487v11M930.3 512v5M934.5 481v6M934.5 516v2M938.7 477v10M938.7 518v1M942.9 477v16M942.9 507v11M947.1 495v3M947.1 514v4M951.3 488v7M951.3 510v6M955.5 478v20M955.5 516v7M959.7 480v17M959.7 511v2M963.9 492v5M963.9 514v8M968.1 485v11M968.1 520v3M972.3 480v5M972.3 519v4M976.5 488v1M976.5 511v10M980.7 496v5M984.9 487v1M984.9 515v16M989.1 493v3M989.1 513v15M993.3 487v7M993.3 518v3M997.5 484v2M1001.7 482v5M1001.7 515v1M1005.9 484v3M1005.9 506v7M1010.1 479v1M1010.1 498v6M1014.3 462v17M1014.3 503v17M1018.5 462v13M1018.5 497v5M1022.7 467v1M1022.7 491v17M1026.9 459v3M1026.9 487v10M1047.9 411v26M1047.9 479v8M1052.1 463v1M1052.1 494v5M1056.3 464v1M1056.3 484v25M1060.5 474v2M1060.5 509v3M1064.7 485v1M1064.7 509v7M1068.9 511v2M1073.1 480v13M1073.1 515v16M1077.3 478v19M1077.3 515v12M1081.5 502v1M1081.5 521v2M1085.7 487v2M1085.7 512v21M1089.9 493v1M1089.9 513v20M1094.1 495v8M1098.3 485v15M1098.3 527v2M1102.5 485v18M1106.7 482v9M1106.7 510v7M1110.9 484v3M1115.1 488v4M1115.1 513v14M1119.3 475v5M1119.3 512v1M1123.5 463v14M1123.5 502v4M1152.9 467v2M1152.9 496v1M1157.1 460v25M1157.1 501v4M1161.3 477v8M1161.3 503v6M1165.5 470v12M1169.7 482v4M1169.7 507v10M1173.9 485v5M1173.9 512v11M1178.1 483v3M1178.1 518v7M1182.3 497v1M1182.3 520v10M1186.5 472v19M1186.5 512v8M1190.7 516v6M1194.9 472v6M1194.9 514v1M1199.1 478v10M1199.1 509v5M1203.3 475v7M1203.3 505v8M1207.5 475v4M1207.5 508v3M1211.7 468v3M1211.7 509v1M1215.9 487v3M1215.9 505v13M1220.1 486v3M1220.1 506v2M1224.3 483v6M1228.5 482v5M1228.5 513v5M1232.7 492v6M1232.7 514v1M1236.9 488v1M1236.9 519v3M1241.1 486v5M1241.1 516v4M1245.3 497v8M1245.3 518v8M1249.5 495v2M1249.5 515v2M1253.7 488v4M1253.7 521v11M1257.9 521v7M1262.1 483v5M1266.3 497v2M1266.3 514v18M1270.5 499v4M1270.5 523v10M1274.7 487v8M1274.7 515v1M1278.9 495v6M1283.1 489v1M1287.3 493v2M1287.3 516v2M1291.5 503v1M1291.5 514v2M1295.7 489v5M1295.7 518v1M1299.9 478v13M1299.9 514v10M1304.1 488v5M1304.1 503v7M1308.3 470v12M1308.3 504v2M1312.5 460v15M1312.5 504v6M1316.7 457v4M1316.7 485v9M1320.9 447v6M1320.9 470v4M1325.1 447v23M1329.3 425v1M1329.3 458v3M1341.9 457v19M1341.9 498v2M1346.1 451v20M1346.1 494v16M1362.9 387v1M1362.9 411v25M1375.5 465v18M1375.5 510v2M1379.7 482v7M1379.7 510v1M1383.9 497v3M1383.9 517v2M1388.1 494v4M1388.1 520v1M1392.3 495v7M1392.3 522v1M1396.5 490v5M1396.5 525v7M1400.7 503v4M1404.9 499v4M1409.1 499v10M1409.1 524v12M1413.3 500v9M1413.3 528v9M1417.5 504v6M1417.5 526v2M1421.7 503v3M1421.7 524v3M1425.9 500v5M1425.9 525v1M1430.1 503v7M1430.1 526v1M1434.3 495v10M1434.3 524v10M1438.5 492v17M1438.5 523v11M1442.7 492v13M1442.7 527v4M1446.9 501v1M1446.9 520v10M1451.1 503v6M1451.1 521v18M1455.3 501v9M1455.3 528v11M1459.5 506v6M1459.5 533v3M1463.7 502v3M1463.7 525v5M1467.9 497v4M1467.9 523v6M1472.1 496v10M1472.1 526v3M1476.3 502v1M1476.3 528v6M1480.5 501v2M1480.5 516v5M1484.7 501v3M1484.7 524v12M1488.9 499v3M1488.9 516v8M1493.1 502v3M1493.1 520v8M1497.3 506v1M1497.3 521v4M1501.5 500v8M1501.5 527v12M1505.7 505v1M1505.7 521v9M1509.9 488v12M1509.9 522v3M1514.1 489v8M1514.1 520v1M1518.3 484v18M1518.3 520v1M1522.5 484v11M1526.7 498v1M1526.7 515v1M1530.9 492v6M1530.9 517v12M1535.1 478v12M1535.1 513v5M1539.3 481v12M1539.3 514v1M1543.5 486v1M1543.5 523v1M1547.7 494v14M1547.7 524v3M1551.9 501v11M1551.9 526v5M1556.1 508v7M1556.1 533v3M1560.3 517v3M1564.5 504v11M1564.5 530v8M1568.7 514v4M1572.9 514v4M1572.9 527v1M1577.1 502v11M1577.1 534v2M1581.3 509v7M1581.3 529v5M1585.5 513v2M1585.5 529v13M1589.7 509v5M1589.7 536v1M1593.9 509v8M1593.9 531v5M1598.1 501v3M1598.1 526v10M1602.3 499v1M1602.3 521v9M1606.5 498v3M1606.5 523v4M1610.7 499v2M1610.7 526v1M1614.9 486v15M1614.9 521v5M1619.1 496v13M1619.1 526v3M1623.3 501v1M1623.3 534v2M1627.5 496v9M1627.5 530v6M1631.7 496v16M1631.7 527v1M1635.9 512v4M1635.9 533v10M1640.1 496v10M1640.1 536v2M1644.3 496v13M1644.3 526v6M1648.5 510v2M1648.5 527v2M1652.7 497v12M1652.7 528v1M1656.9 497v2M1656.9 526v13M1661.1 500v9M1661.1 534v9M1665.3 531v3M1669.5 517v4M1669.5 535v2M1673.7 510v4M1673.7 531v1M1677.9 500v10M1677.9 528v9M1682.1 514v2M1682.1 532v1M1686.3 509v4M1686.3 535v4M1690.5 515v1M1690.5 536v6M1694.7 514v6M1694.7 531v2M1698.9 515v6M1703.1 515v1M1703.1 535v11M1707.3 518v4M1707.3 536v10M1711.5 508v9M1711.5 545v1M1715.7 504v9M1715.7 535v8M1719.9 502v10M1719.9 531v6M1724.1 531v6M1728.3 500v11M1728.3 529v1M1732.5 512v5M1732.5 528v2M1736.7 507v7M1736.7 533v2M1740.9 507v4M1740.9 529v4M1745.1 539v2M1749.3 507v9M1749.3 529v5M1753.5 518v2M1753.5 536v3M1757.7 532v2M1761.9 505v10M1761.9 527v4M1766.1 497v12M1766.1 527v9M1770.3 497v20M1770.3 532v1M1774.5 495v15M1774.5 525v3M1778.7 495v19M1778.7 534v9M1782.9 505v6M1782.9 529v1M1787.1 511v2M1787.1 529v16M1791.3 503v14M1791.3 536v6M1795.5 511v8M1795.5 535v1M1799.7 512v5M1799.7 537v9M1803.9 512v7M1803.9 542v4M1808.1 514v6M1812.3 513v1M1812.3 532v1M1816.5 497v5M1816.5 525v3M1820.7 492v17M1824.9 499v10M1824.9 533v9M1829.1 515v1M1829.1 534v5M1833.3 505v10M1833.3 528v16M1837.5 513v5M1837.5 529v7M1841.7 522v1M1841.7 538v1M1845.9 520v2M1845.9 539v12M1850.1 518v6M1850.1 539v1M1854.3 527v7M1858.5 513v10M1862.7 513v1M1862.7 541v2M1866.9 537v6M1871.1 514v7M1871.1 536v7M1875.3 522v2M1875.3 537v5M1879.5 520v5M1879.5 536v6M1883.7 513v3M1887.9 512v6M1887.9 525v21M1892.1 533v13M1896.3 511v5M1896.3 525v3M1900.5 506v1M1900.5 531v2M1904.7 513v2M1904.7 534v11M1908.9 514v2M1908.9 545v2M1913.1 512v3M1913.1 538v5M1917.3 522v6M1917.3 541v8M1921.5 516v5M1921.5 538v5M1925.7 521v3M1925.7 534v4M1929.9 527v3M1929.9 543v4M1934.1 540v10"/>
<path d="M170.1 496v13M174.3 497v14M178.5 491v30M182.7 489v28M186.9 481v41M191.1 504v23M195.3 498v25M199.5 503v24M203.7 502v20M207.9 503v18M212.1 492v20M216.3 493v24M220.5 492v17M224.7 497v16M228.9 488v23M233.1 494v16M237.3 496v26M241.5 502v21M245.7 502v18M249.9 496v23M254.1 490v29M258.3 491v25M262.5 497v13M266.7 496v15M270.9 498v16M275.1 492v24M279.3 497v17M283.5 493v25M287.7 498v14M291.9 482v30M296.1 491v28M300.3 494v23M304.5 487v26M308.7 490v16M312.9 487v20M317.1 484v23M321.3 486v28M325.5 475v25M329.7 485v19M333.9 481v27M338.1 479v21M342.3 484v25M346.5 478v28M350.7 482v23M354.9 474v20M359.1 481v19M363.3 480v21M367.5 473v28M371.7 473v24M375.9 474v21M380.1 475v23M384.3 476v16M388.5 466v29M392.7 464v25M396.9 471v31M401.1 477v23M405.3 458v24M409.5 448v23M413.7 436v37M417.9 450v31M422.1 448v26M426.3 451v31M430.5 450v23M434.7 439v44M438.9 455v21M443.1 453v19M447.3 446v29M451.5 442v27M455.7 447v21M459.9 426v40M464.1 411v34M468.3 414v25M489.3 407v40M493.5 426v35M497.7 418v52M501.9 431v37M506.1 437v22M510.3 448v17M514.5 444v29M518.7 449v16M522.9 444v18M527.1 447v13M531.3 438v27M535.5 434v20M539.7 447v29M543.9 442v41M548.1 461v17M552.3 447v25M556.5 451v23M560.7 441v28M564.9 440v47M569.1 451v24M573.3 450v17M577.5 446v16M581.7 444v34M585.9 449v35M590.1 448v25M594.3 452v20M598.5 445v18M602.7 452v27M606.9 450v25M611.1 448v27M615.3 444v28M619.5 440v30M623.7 458v21M627.9 439v24M632.1 437v30M636.3 439v28M640.5 440v29M644.7 422v31M648.9 431v28M653.1 405v54M657.3 424v21M703.5 429v32M707.7 436v26M711.9 446v26M716.1 436v30M753.9 423v48M758.1 448v32M762.3 459v26M766.5 466v20M770.7 471v32M774.9 476v16M779.1 471v27M783.3 477v28M787.5 481v27M791.7 479v23M795.9 485v21M800.1 474v48M804.3 477v25M808.5 485v15M812.7 488v27M816.9 473v29M821.1 475v31M825.3 482v25M829.5 476v28M833.7 474v24M837.9 462v27M863.1 477v22M867.3 478v30M871.5 478v27M875.7 496v24M879.9 488v18M884.1 488v21M888.3 483v25M892.5 483v26M896.7 491v21M909.3 494v20M913.5 493v28M917.7 491v22M921.9 491v18M926.1 490v18M930.3 498v14M934.5 487v29M938.7 487v31M942.9 493v14M947.1 498v16M951.3 495v15M955.5 498v18M959.7 497v14M963.9 497v17M968.1 496v24M972.3 485v34M976.5 489v22M980.7 501v10M984.9 488v27M989.1 496v17M993.3 494v24M997.5 486v38M1001.7 487v28M1005.9 487v19M1010.1 480v18M1014.3 479v24M1018.5 475v22M1022.7 468v23M1026.9 462v25M1047.9 437v42M1052.1 464v30M1056.3 465v19M1060.5 476v33M1064.7 486v23M1068.9 487v24M1073.1 493v22M1077.3 497v18M1081.5 503v18M1085.7 489v23M1089.9 494v19M1094.1 503v14M1098.3 500v27M1102.5 503v11M1106.7 491v19M1110.9 487v25M1115.1 492v21M1119.3 480v32M1123.5 477v25M1152.9 469v27M1157.1 485v16M1161.3 485v18M1165.5 482v21M1169.7 486v21M1173.9 490v22M1178.1 486v32M1182.3 498v22M1186.5 491v21M1190.7 495v21M1194.9 478v36M1199.1 488v21M1203.3 482v23M1207.5 479v29M1211.7 471v38M1215.9 490v15M1220.1 489v17M1224.3 489v25M1228.5 487v26M1232.7 498v16M1236.9 489v30M1241.1 491v25M1245.3 505v13M1249.5 497v18M1253.7 492v29M1257.9 493v28M1262.1 488v26M1266.3 499v15M1270.5 503v20M1274.7 495v20M1278.9 501v32M1283.1 490v29M1287.3 495v21M1291.5 504v10M1295.7 494v24M1299.9 491v23M1304.1 493v10M1308.3 482v22M1312.5 475v29M1316.7 461v24M1320.9 453v17M1325.1 426v21M1329.3 426v32M1341.9 476v22M1346.1 471v23M1362.9 388v23M1375.5 483v27M1379.7 489v21M1383.9 500v17M1388.1 498v22M1392.3 502v20M1396.5 495v30M1400.7 507v21M1404.9 503v19M1409.1 509v15M1413.3 509v19M1417.5 510v16M1421.7 506v18M1425.9 505v20M1430.1 510v16M1434.3 505v19M1438.5 509v14M1442.7 505v22M1446.9 502v18M1451.1 509v12M1455.3 510v18M1459.5 512v21M1463.7 505v20M1467.9 501v22M1472.1 506v20M1476.3 503v25M1480.5 503v13M1484.7 504v20M1488.9 502v14M1493.1 505v15M1497.3 507v14M1501.5 508v19M1505.7 506v15M1509.9 500v22M1514.1 497v23M1518.3 502v18M1522.5 495v22M1526.7 499v16M1530.9 498v19M1535.1 490v23M1539.3 493v21M1543.5 487v36M1547.7 508v16M1551.9 512v14M1556.1 515v18M1560.3 520v16M1564.5 515v15M1568.7 518v12M1572.9 518v9M1577.1 513v21M1581.3 516v13M1585.5 515v14M1589.7 514v22M1593.9 517v14M1598.1 504v22M1602.3 500v21M1606.5 501v22M1610.7 501v25M1614.9 501v20M1619.1 509v17M1623.3 502v32M1627.5 505v25M1631.7 512v15M1635.9 516v17M1640.1 506v30M1644.3 509v17M1648.5 512v15M1652.7 509v19M1656.9 499v27M1661.1 509v25M1665.3 509v22M1669.5 521v14M1673.7 514v17M1677.9 510v18M1682.1 516v16M1686.3 513v22M1690.5 516v20M1694.7 520v11M1698.9 521v14M1703.1 516v19M1707.3 522v14M1711.5 517v28M1715.7 513v22M1719.9 512v19M1724.1 502v29M1728.3 511v18M1732.5 517v11M1736.7 514v19M1740.9 511v18M1745.1 518v21M1749.3 516v13M1753.5 520v16M1757.7 515v17M1761.9 515v12M1766.1 509v18M1770.3 517v15M1774.5 510v15M1778.7 514v20M1782.9 511v18M1787.1 513v16M1791.3 517v19M1795.5 519v16M1799.7 517v20M1803.9 519v23M1808.1 520v14M1812.3 514v18M1816.5 502v23M1820.7 509v14M1824.9 509v24M1829.1 516v18M1833.3 515v13M1837.5 518v11M1841.7 523v15M1845.9 522v17M1850.1 524v15M1854.3 517v10M1858.5 523v17M1862.7 514v27M1866.9 525v12M1871.1 521v15M1875.3 524v13M1879.5 525v11M1883.7 516v21M1887.9 518v7M1892.1 517v16M1896.3 516v9M1900.5 507v24M1904.7 515v19M1908.9 516v29M1913.1 515v23M1917.3 528v13M1921.5 521v17M1925.7 524v10M1929.9 530v13"/>
</g>
<g filter="url(#soft2)" fill="none" stroke="#ff3c3c" stroke-width="2.8" stroke-linejoin="round" stroke-linecap="round">
<polyline points="465.7,436.4 466.2,396.2 466.6,436.7 467.0,421.4 467.5,433.8 467.9,437.9 468.4,421.6 468.8,415.7 469.3,453.4 469.7,430.8 470.1,416.5 470.6,384.4 471.0,421.3 471.5,427.4 471.9,431.2 472.3,405.2 472.8,403.0 473.2,402.9 473.7,416.9 474.1,388.1 474.5,399.3 475.0,386.1 475.4,399.0 475.9,372.8 476.3,395.3 476.7,381.4 477.2,382.4 477.6,396.5 478.1,410.0 478.5,362.8 479.0,401.2 479.4,361.8 479.8,370.1 480.3,394.7 480.7,383.9 481.2,398.4 481.6,376.4 482.0,375.4 482.5,405.1 482.9,419.9 483.4,402.6 483.8,408.5 484.2,393.8 484.7,386.3 485.1,401.1 485.6,430.1 486.0,389.9 486.5,411.2 486.9,396.2 487.3,425.9 487.8,435.8 488.2,409.7 488.7,416.7 489.1,445.9 489.5,429.0 490.0,415.4 490.4,415.9 490.9,408.4 491.3,445.7 491.7,427.7 492.2,464.8"/>
<polyline points="654.5,432.9 654.9,393.4 655.3,443.8 655.8,434.5 656.2,433.8 656.7,430.7 657.1,448.4 657.6,425.3 658.0,440.3 658.4,431.7 658.9,426.9 659.3,426.0 659.8,419.1 660.2,401.1 660.6,422.4 661.1,420.1 661.5,406.6 662.0,415.7 662.4,415.6 662.8,384.9 663.3,397.5 663.7,391.3 664.2,383.0 664.6,400.8 665.0,379.2 665.5,382.2 665.9,388.7 666.4,387.8 666.8,385.2 667.3,406.5 667.7,366.4 668.1,371.8 668.6,348.4 669.0,365.9 669.5,370.2 669.9,366.6 670.3,338.1 670.8,338.2 671.2,370.3 671.7,331.8 672.1,341.0 672.5,311.5 673.0,355.6 673.4,328.3 673.9,313.0 674.3,288.6 674.8,288.8 675.2,284.9 675.6,278.3 676.1,265.5 676.5,256.0 677.0,253.3 677.4,259.5 677.8,205.7 678.3,204.5 678.7,192.7 679.2,194.3 679.6,180.9 680.0,179.9 680.5,196.7 680.9,201.7 681.4,205.7 681.8,226.2 682.2,238.3 682.7,247.5 683.1,242.6 683.6,267.8 684.0,247.4 684.5,290.0 684.9,240.9 685.3,280.4 685.8,279.7 686.2,312.3 686.7,288.8 687.1,337.9 687.5,300.3 688.0,352.8 688.4,338.4 688.9,339.1 689.3,350.4 689.7,389.9 690.2,368.6 690.6,334.1 691.1,384.7 691.5,381.4 691.9,360.4 692.4,407.3 692.8,377.9 693.3,399.7 693.7,402.7 694.2,393.5 694.6,412.6 695.0,393.1 695.5,411.1 695.9,403.8 696.4,410.8 696.8,440.4 697.2,419.1 697.7,405.8 698.1,420.6 698.6,404.4 699.0,427.0 699.4,431.0 699.9,432.3 700.3,434.5 700.8,428.7 701.2,443.6 701.7,453.5 702.1,434.7 702.5,443.5 703.0,445.8 703.4,461.3 703.9,459.9 704.3,429.6 704.7,449.1 705.2,431.0 705.6,438.2 706.1,450.8"/>
<polyline points="713.6,456.4 714.0,437.8 714.4,469.2 714.9,463.0 715.3,464.3 715.8,455.0 716.2,453.4 716.6,444.8 717.1,437.4 717.5,463.3 718.0,438.2 718.4,435.1 718.8,434.0 719.3,461.6 719.7,447.5 720.2,425.2 720.6,432.5 721.1,438.1 721.5,441.3 721.9,407.3 722.4,434.7 722.8,411.4 723.3,402.3 723.7,400.3 724.1,409.7 724.6,416.4 725.0,389.6 725.5,389.0 725.9,365.3 726.3,376.4 726.8,385.6 727.2,338.9 727.7,345.7 728.1,354.7 728.6,307.3 729.0,306.2 729.4,309.5 729.9,265.5 730.3,268.1 730.8,259.7 731.2,256.3 731.6,213.8 732.1,230.1 732.5,204.9 733.0,201.7 733.4,186.5 733.8,161.1 734.3,148.2 734.7,114.3 735.2,113.3 735.6,128.6 736.0,154.4 736.5,188.2 736.9,170.1 737.4,206.3 737.8,210.5 738.3,205.4 738.7,284.0 739.1,285.1 739.6,341.7 740.0,337.1 740.5,328.7 740.9,335.5 741.3,394.2 741.8,366.4 742.2,361.2 742.7,389.4 743.1,386.5 743.5,380.3 744.0,388.9 744.4,399.8 744.9,403.0 745.3,416.2 745.7,401.6 746.2,406.2 746.6,435.1 747.1,431.9 747.5,442.3 748.0,426.3 748.4,429.8 748.8,417.6 749.3,453.4 749.7,417.7 750.2,439.7 750.6,427.3 751.0,448.6 751.5,450.9 751.9,402.9 752.4,442.0 752.8,424.6 753.2,464.8 753.7,438.4 754.1,431.7 754.6,443.8 755.0,469.2 755.5,472.7 755.9,471.6 756.3,449.1 756.8,456.2"/>
<polyline points="835.3,487.5 835.7,480.5 836.2,463.3 836.6,487.1 837.0,491.4 837.5,465.5 837.9,483.4 838.4,479.0 838.8,470.6 839.2,477.2 839.7,444.2 840.1,481.5 840.6,487.0 841.0,459.1 841.4,470.1 841.9,484.7 842.3,468.6 842.8,459.7 843.2,453.4 843.6,463.9 844.1,458.1 844.5,462.6 845.0,432.4 845.4,459.4 845.9,436.7 846.3,453.6 846.7,423.4 847.2,411.5 847.6,416.5 848.1,406.7 848.5,402.6 848.9,414.0 849.4,412.8 849.8,394.6 850.3,378.2 850.7,376.3 851.1,396.8 851.6,411.2 852.0,399.6 852.5,409.5 852.9,408.7 853.4,426.2 853.8,440.3 854.2,394.6 854.7,440.0 855.1,434.2 855.6,416.9 856.0,453.7 856.4,453.3 856.9,463.1 857.3,445.9 857.8,487.6 858.2,466.8 858.6,463.8 859.1,486.3 859.5,478.7 860.0,482.6 860.4,488.0 860.8,456.1 861.3,497.0 861.7,478.3 862.2,486.7 862.6,495.0 863.1,481.0 863.5,493.0 863.9,497.6 864.4,490.1 864.8,500.3 865.3,475.7 865.7,480.0"/>
<polyline points="893.9,484.8 894.4,486.5 894.8,492.6 895.2,493.2 895.7,510.3 896.1,493.2 896.6,513.1 897.0,503.8 897.4,493.5 897.9,492.5 898.3,504.0 898.8,481.9 899.2,476.7 899.7,481.0 900.1,488.9 900.5,477.3 901.0,468.9 901.4,458.9 901.9,422.4 902.3,430.8 902.7,411.3 903.2,410.3 903.6,432.3 904.1,445.2 904.5,464.7 904.9,470.5 905.4,476.3 905.8,484.3 906.3,476.1 906.7,482.0 907.2,502.1 907.6,512.2 908.0,508.4 908.5,497.5 908.9,510.5 909.4,495.8 909.8,503.3 910.2,494.6 910.7,501.4 911.1,518.1 911.6,507.3 912.0,527.1"/>
<polyline points="1024.0,506.2 1024.5,473.0 1024.9,460.3 1025.3,483.7 1025.8,469.8 1026.2,473.4 1026.7,486.0 1027.1,495.8 1027.5,468.3 1028.0,485.4 1028.4,467.0 1028.9,463.6 1029.3,463.9 1029.7,453.7 1030.2,465.3 1030.6,460.2 1031.1,445.5 1031.5,455.5 1031.9,443.4 1032.4,440.5 1032.8,443.5 1033.3,455.5 1033.7,444.0 1034.2,468.8 1034.6,454.3 1035.0,430.2 1035.5,419.3 1035.9,413.4 1036.4,423.7 1036.8,427.8 1037.2,433.6 1037.7,397.8 1038.1,418.0 1038.6,416.4 1039.0,396.8 1039.4,405.0 1039.9,405.7 1040.3,397.8 1040.8,403.1 1041.2,397.8 1041.7,407.1 1042.1,412.1 1042.5,407.4 1043.0,429.6 1043.4,439.3 1043.9,447.6 1044.3,438.2 1044.7,458.0 1045.2,460.8 1045.6,412.4 1046.1,448.3 1046.5,438.6 1046.9,443.8 1047.4,460.6 1047.8,457.5 1048.3,477.5 1048.7,485.7 1049.1,469.1 1049.6,464.2 1050.0,466.5 1050.5,469.8"/>
<polyline points="1120.6,481.2 1121.0,500.5 1121.5,480.8 1121.9,494.4 1122.4,488.4 1122.8,504.1 1123.2,487.3 1123.7,464.8 1124.1,491.0 1124.6,478.3 1125.0,491.1 1125.4,482.2 1125.9,494.7 1126.3,475.8 1126.8,456.5 1127.2,472.6 1127.6,478.2 1128.1,465.7 1128.5,460.9 1129.0,479.6 1129.4,456.6 1129.8,468.7 1130.3,454.8 1130.7,432.3 1131.2,423.9 1131.6,439.3 1132.1,448.3 1132.5,426.3 1132.9,415.1 1133.4,417.0 1133.8,420.1 1134.3,410.2 1134.7,407.5 1135.1,432.6 1135.6,405.4 1136.0,384.6 1136.5,388.4 1136.9,402.5 1137.3,383.9 1137.8,367.7 1138.2,344.9 1138.7,333.9 1139.1,345.1 1139.5,341.7 1140.0,332.0 1140.4,333.0 1140.9,348.7 1141.3,333.0 1141.8,339.8 1142.2,368.0 1142.6,382.4 1143.1,385.6 1143.5,400.4 1144.0,431.9 1144.4,411.0 1144.8,401.8 1145.3,438.8 1145.7,438.8 1146.2,434.6 1146.6,417.4 1147.0,438.7 1147.5,412.5 1147.9,440.4 1148.4,420.0 1148.8,450.6 1149.3,472.9 1149.7,466.8 1150.1,503.0 1150.6,471.8 1151.0,474.0 1151.5,470.7 1151.9,480.6 1152.3,475.6 1152.8,489.6 1153.2,494.9 1153.7,483.0 1154.1,468.5 1154.5,486.9 1155.0,496.0 1155.4,489.8 1155.9,487.2"/>
<polyline points="1326.5,440.6 1327.0,427.3 1327.4,447.0 1327.9,445.7 1328.3,437.0 1328.7,427.3 1329.2,427.3 1329.6,426.3 1330.1,456.4 1330.5,443.6 1330.9,427.3 1331.4,459.7 1331.8,449.6 1332.3,470.7 1332.7,447.2 1333.1,462.7 1333.6,458.2 1334.0,472.2 1334.5,458.6 1334.9,477.5 1335.3,465.1 1335.8,461.6 1336.2,479.1 1336.7,479.8 1337.1,454.6 1337.6,478.1 1338.0,481.4 1338.4,486.0 1338.9,504.5 1339.3,479.6 1339.8,487.6 1340.2,458.4 1340.6,477.7 1341.1,487.5 1341.5,490.9 1342.0,489.6 1342.4,496.8 1342.8,497.0 1343.3,499.0 1343.7,486.9 1344.2,492.6 1344.6,480.1 1345.0,489.9 1345.5,490.4 1345.9,479.9 1346.4,452.1 1346.8,476.9 1347.3,508.7 1347.7,481.0 1348.1,472.5 1348.6,477.2 1349.0,485.0 1349.5,473.7 1349.9,464.8 1350.3,449.7 1350.8,457.7 1351.2,444.3 1351.7,459.3 1352.1,470.1 1352.5,474.6 1353.0,439.0 1353.4,431.0 1353.9,422.7 1354.3,442.9 1354.8,441.8 1355.2,442.3 1355.6,438.3 1356.1,411.4 1356.5,389.8 1357.0,436.5 1357.4,408.7 1357.8,441.7 1358.3,389.8 1358.7,397.7 1359.2,389.8 1359.6,410.5 1360.0,413.3 1360.5,395.9 1360.9,409.2 1361.4,389.8 1361.8,391.8 1362.2,389.8 1362.7,389.8 1363.1,389.8 1363.6,388.8 1364.0,434.4 1364.5,389.8 1364.9,399.8 1365.3,414.9 1365.8,411.2 1366.2,431.7 1366.7,403.6 1367.1,431.5 1367.5,419.1 1368.0,447.5 1368.4,447.0 1368.9,455.7 1369.3,453.8 1369.7,448.1 1370.2,464.6 1370.6,489.2 1371.1,480.5 1371.5,491.5 1371.9,472.1 1372.4,498.7 1372.8,497.2 1373.3,466.9 1373.7,492.5 1374.2,509.0 1374.6,484.3 1375.0,501.9 1375.5,494.0 1375.9,510.3 1376.4,491.8 1376.8,489.0 1377.2,492.9 1377.7,494.2 1378.1,492.9"/>
</g>
<g filter="url(#soft3)">
<rect x="153" y="1215.1" width="1795" height="2" fill="#b2b2b2"/>
<rect x="153" y="30.5" width="1795" height="2" fill="#ececec"/>
<rect x="151.0" y="28.5" width="1799.0" height="1190.5" fill="none" stroke="#000" stroke-width="4"/>
<line x1="169.6" y1="1219.0" x2="169.6" y2="1241.0" stroke="#000" stroke-width="4"/>
<line x1="279.7" y1="1219.0" x2="279.7" y2="1230.5" stroke="#000" stroke-width="4"/>
<line x1="389.8" y1="1219.0" x2="389.8" y2="1241.0" stroke="#000" stroke-width="4"/>
<line x1="500.0" y1="1219.0" x2="500.0" y2="1230.5" stroke="#000" stroke-width="4"/>
<line x1="610.1" y1="1219.0" x2="610.1" y2="1241.0" stroke="#000" stroke-width="4"/>
<line x1="720.3" y1="1219.0" x2="720.3" y2="1230.5" stroke="#000" stroke-width="4"/>
<line x1="830.4" y1="1219.0" x2="830.4" y2="1241.0" stroke="#000" stroke-width="4"/>
<line x1="940.6" y1="1219.0" x2="940.6" y2="1230.5" stroke="#000" stroke-width="4"/>
<line x1="1050.7" y1="1219.0" x2="1050.7" y2="1241.0" stroke="#000" stroke-width="4"/>
<line x1="1160.9" y1="1219.0" x2="1160.9" y2="1230.5" stroke="#000" stroke-width="4"/>
<line x1="1271.0" y1="1219.0" x2="1271.0" y2="1241.0" stroke="#000" stroke-width="4"/>
<line x1="1381.1" y1="1219.0" x2="1381.1" y2="1230.5" stroke="#000" stroke-width="4"/>
<line x1="1491.3" y1="1219.0" x2="1491.3" y2="1241.0" stroke="#000" stroke-width="4"/>
<line x1="1601.4" y1="1219.0" x2="1601.4" y2="1230.5" stroke="#000" stroke-width="4"/>
<line x1="1711.6" y1="1219.0" x2="1711.6" y2="1241.0" stroke="#000" stroke-width="4"/>
<line x1="1821.7" y1="1219.0" x2="1821.7" y2="1230.5" stroke="#000" stroke-width="4"/>
<line x1="1931.9" y1="1219.0" x2="1931.9" y2="1241.0" stroke="#000" stroke-width="4"/>
<text transform="translate(169.00,1307.30) scale(0.9530,1)" font-size="68.50" text-anchor="middle">10</text>
<text transform="translate(389.29,1307.30) scale(0.9530,1)" font-size="68.50" text-anchor="middle">20</text>
<text transform="translate(609.58,1307.30) scale(0.9530,1)" font-size="68.50" text-anchor="middle">30</text>
<text transform="translate(829.87,1307.30) scale(0.9530,1)" font-size="68.50" text-anchor="middle">40</text>
<text transform="translate(1050.16,1307.30) scale(0.9530,1)" font-size="68.50" text-anchor="middle">50</text>
<text transform="translate(1270.45,1307.30) scale(0.9530,1)" font-size="68.50" text-anchor="middle">60</text>
<text transform="translate(1490.74,1307.30) scale(0.9530,1)" font-size="68.50" text-anchor="middle">70</text>
<text transform="translate(1711.03,1307.30) scale(0.9530,1)" font-size="68.50" text-anchor="middle">80</text>
<text transform="translate(1931.32,1307.30) scale(0.9530,1)" font-size="68.50" text-anchor="middle">90</text>
<text transform="translate(1049.50,1412.50)" font-size="78.30" text-anchor="middle">2θ/(°)</text>
<text transform="translate(84.20,623.00) rotate(-90) scale(0.9770,1)" font-size="78.50" text-anchor="middle">Intensity (a.u.)</text>
<polygon class="tr" points="214.2,92.7 190.8,133.7 237.6,133.7"/>
<text transform="translate(254.50,133.30) scale(0.9740,1)" font-size="61.60" text-anchor="start">FeO(OH)</text>
<rect class="sq" x="194.7" y="180.5" width="38.6" height="38.6"/>
<text transform="translate(254.50,220.80) scale(0.9740,1)" font-size="61.60" text-anchor="start">Fe<tspan dy="16" font-size="39.5">2</tspan><tspan dy="-16">O</tspan><tspan dy="16" font-size="39.5">3</tspan></text>
<text transform="translate(1323.40,322.90) scale(0.9585,1)" font-size="57.40" text-anchor="start">After 300 ºC heat treatment</text>
<text transform="translate(1585.00,1016.30) scale(0.9620,1)" font-size="57.40" text-anchor="start">Raw materials</text>
<rect class="sq" x="455.4" y="308.4" width="38.6" height="38.6"/>
<rect class="sq" x="509.4" y="362.7" width="38.6" height="38.6"/>
<rect class="sq" x="655.3" y="130.0" width="38.6" height="38.6"/>
<rect class="sq" x="712.5" y="65.4" width="38.6" height="38.6"/>
<rect class="sq" x="825.9" y="326.7" width="38.6" height="38.6"/>
<rect class="sq" x="886.5" y="353.9" width="38.6" height="38.6"/>
<rect class="sq" x="1014.5" y="351.2" width="38.6" height="38.6"/>
<rect class="sq" x="1114.0" y="282.0" width="38.6" height="38.6"/>
<rect class="sq" x="1296.2" y="378.5" width="38.6" height="38.6"/>
<rect class="sq" x="1350.4" y="360.2" width="38.6" height="38.6"/>
<rect class="sq" x="1508.7" y="430.7" width="38.6" height="38.6"/>
<rect class="sq" x="1593.4" y="436.9" width="38.6" height="38.6"/>
<polygon class="tr" points="407.4,547.0 384.0,588.0 430.8,588.0"/>
<polygon class="tr" points="526.2,887.2 502.8,928.2 549.6,928.2"/>
<polygon class="tr" points="672.5,683.7 649.1,724.7 695.9,724.7"/>
<polygon class="tr" points="757.7,701.6 734.3,742.6 781.1,742.6"/>
<polygon class="tr" points="721.6,838.2 698.2,879.2 745.0,879.2"/>
<polygon class="tr" points="704.6,888.5 681.2,929.5 728.0,929.5"/>
<polygon class="tr" points="801.5,957.6 778.1,998.6 824.9,998.6"/>
<polygon class="tr" points="824.3,927.4 800.9,968.4 847.7,968.4"/>
<polygon class="tr" points="857.9,914.4 834.5,955.4 881.3,955.4"/>
<polygon class="tr" points="898.0,892.2 874.6,933.2 921.4,933.2"/>
<polygon class="tr" points="1118.4,872.5 1095.0,913.5 1141.8,913.5"/>
<polygon class="tr" points="1142.7,945.2 1119.3,986.2 1166.1,986.2"/>
<polygon class="tr" points="1241.8,932.3 1218.4,973.3 1265.2,973.3"/>
<polygon class="tr" points="1301.4,965.0 1278.0,1006.0 1324.8,1006.0"/>
<polygon class="tr" points="1358.0,957.7 1334.6,998.7 1381.4,998.7"/>
<polygon class="tr" points="1521.0,1000.0 1497.6,1041.0 1544.4,1041.0"/>
</g>
</svg></body></html>
